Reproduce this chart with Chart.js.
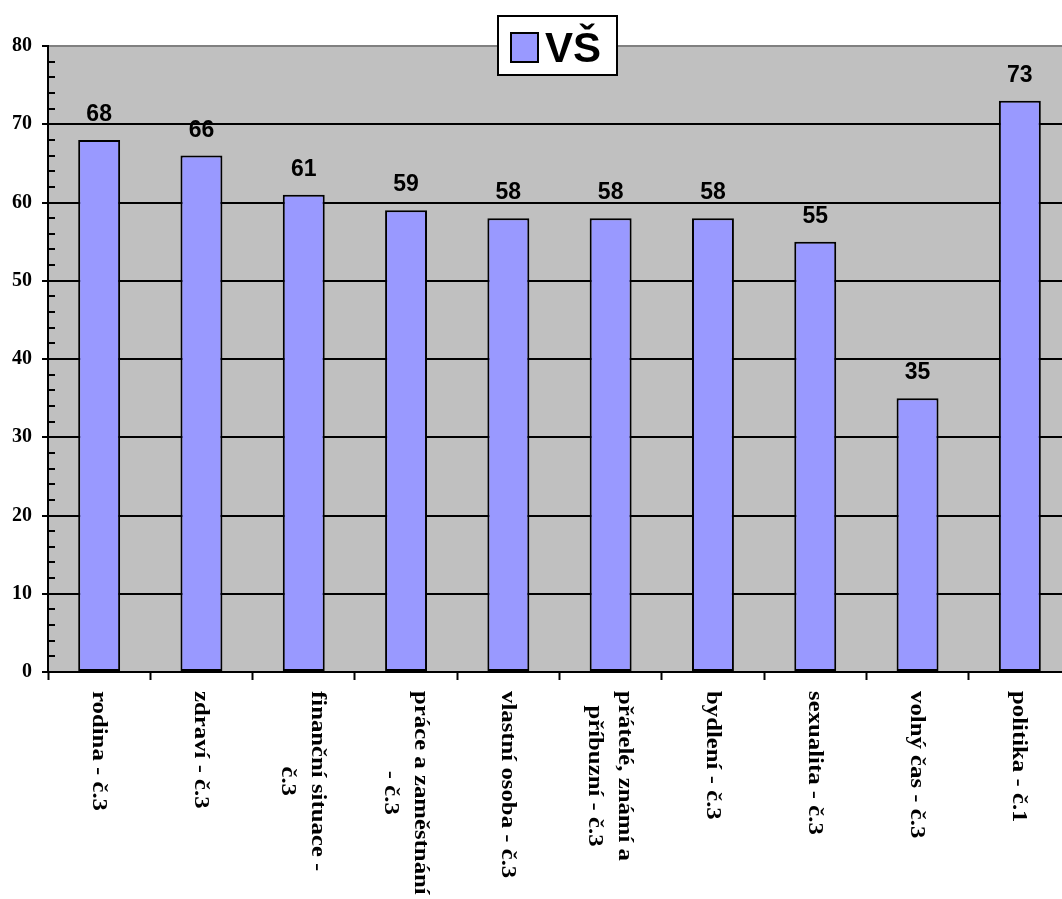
<!DOCTYPE html>
<html>
<head>
<meta charset="utf-8">
<script src="https://cdn.jsdelivr.net/npm/chart.js@4/dist/chart.umd.min.js"></script>
<style>
  body { margin: 0; background: #fff; overflow: hidden; }
  #wrap { width: 1062px; height: 899px; overflow: hidden; }
</style>
</head>
<body>
<div id="wrap"><canvas id="myChart" width="1072" height="899"></canvas></div>
<script>
// data
const seriesName = 'VŠ';
const categories = [
    ['rodina - č.3'],
    ['zdraví - č.3'],
    ['finanční situace -', 'č.3'],
    ['práce a zaměstnání', '- č.3'],
    ['vlastní osoba - č.3'],
    ['přátelé, známí a', 'příbuzní - č.3'],
    ['bydlení - č.3'],
    ['sexualita - č.3'],
    ['volný čas - č.3'],
    ['politika - č.1']
];
const values = [68, 66, 61, 59, 58, 58, 58, 55, 35, 73];
const yMax = 80;
const yStep = 10;
const yMinorStep = 2;

const barColor = '#9999FF';
const plotGray = '#C0C0C0';

// gray plot background
const plotBg = {
    id: 'plotBg',
    beforeDraw(chart) {
        const a = chart.chartArea;
        const ctx = chart.ctx;
        ctx.save();
        ctx.fillStyle = plotGray;
        ctx.fillRect(a.left, a.top, a.right - a.left, a.bottom - a.top);
        ctx.restore();
    }
};

// value labels, rotated category labels, minor ticks, legend box
const extras = {
    id: 'extras',
    afterDraw(chart) {
        const ctx = chart.ctx;
        const a = chart.chartArea;
        const xs = chart.scales.x;
        const ys = chart.scales.y;
        const meta = chart.getDatasetMeta(0);

        // values above bars
        ctx.save();
        ctx.fillStyle = '#000';
        ctx.font = 'bold 23px "Liberation Sans", Arial, sans-serif';
        ctx.textAlign = 'center';
        ctx.textBaseline = 'alphabetic';
        meta.data.forEach(function (bar, i) {
            ctx.fillText(String(values[i]), bar.x, bar.y - 19);
        });
        ctx.restore();

        // minor ticks inside the y axis
        ctx.save();
        ctx.strokeStyle = '#000';
        ctx.lineWidth = 2;
        for (let v = 0; v <= yMax; v += yMinorStep) {
            if (v % yStep === 0) continue;
            const y = Math.round(ys.getPixelForValue(v));
            ctx.beginPath();
            ctx.moveTo(a.left, y);
            ctx.lineTo(a.left + 7, y);
            ctx.stroke();
        }
        ctx.restore();

        // category labels, turned clockwise
        const stretch = 1.18;
        const lh = 30;
        ctx.save();
        ctx.fillStyle = '#000';
        ctx.font = 'bold 21px "Liberation Serif", "Times New Roman", serif';
        ctx.textBaseline = 'middle';
        ctx.textAlign = 'center';
        categories.forEach(function (lines, i) {
            const x = xs.getPixelForValue(i);
            let widest = 0;
            lines.forEach(function (l) { widest = Math.max(widest, ctx.measureText(l).width); });
            ctx.save();
            ctx.translate(x - 1, a.bottom + 19);
            ctx.rotate(Math.PI / 2);
            ctx.scale(stretch, 1);
            lines.forEach(function (l, j) {
                ctx.fillText(l, widest / 2, (j - (lines.length - 1) / 2) * lh);
            });
            ctx.restore();
        });
        ctx.restore();

        // legend box
        ctx.save();
        ctx.fillStyle = '#fff';
        ctx.fillRect(498, 16, 119, 59);
        ctx.strokeStyle = '#000';
        ctx.lineWidth = 2;
        ctx.strokeRect(498, 16, 119, 59);
        ctx.fillStyle = barColor;
        ctx.fillRect(511, 33, 27, 29);
        ctx.strokeRect(511, 33, 27, 29);
        ctx.fillStyle = '#000';
        ctx.font = 'bold 42px "Liberation Sans", Arial, sans-serif';
        ctx.textAlign = 'left';
        ctx.textBaseline = 'alphabetic';
        ctx.fillText(seriesName, 545, 62);
        ctx.restore();
    }
};

const chartVS = document.getElementById('myChart').getContext('2d');

const vs = new Chart(chartVS, {
    type: 'bar',
    data: {
        labels: categories,
        datasets: [
            {
                label: seriesName,
                data: values,
                backgroundColor: barColor,
                borderColor: '#000',
                borderWidth: 2,
                borderSkipped: false,
                categoryPercentage: 1,
                barPercentage: 0.41
            }
        ]
    },
    options: {
        responsive: false,
        animation: false,
        layout: {
            padding: { top: 46, right: 1, left: 0, bottom: 0 }
        },
        plugins: {
            legend: { display: false },
            tooltip: { enabled: false }
        },
        scales: {
            x: {
                grid: {
                    drawOnChartArea: false,
                    drawTicks: true,
                    tickLength: 8,
                    tickWidth: 2,
                    tickColor: '#000',
                    offset: true
                },
                border: { color: '#000', width: 2 },
                ticks: { display: false },
                afterFit: function (scale) { scale.height = 227; }
            },
            y: {
                min: 0,
                max: yMax,
                ticks: {
                    stepSize: yStep,
                    color: '#000',
                    padding: 10,
                    font: { family: '"Liberation Serif", "Times New Roman", serif', size: 20, weight: 'bold' }
                },
                grid: {
                    color: function (c) { return c.tick && c.tick.value === yMax ? '#808080' : '#000'; },
                    lineWidth: 2,
                    tickLength: 6,
                    tickColor: '#000',
                    tickWidth: 2
                },
                border: { color: '#000', width: 2 },
                afterFit: function (scale) { scale.width = 48; }
            }
        }
    },
    plugins: [plotBg, extras]
});
</script>
</body>
</html>
